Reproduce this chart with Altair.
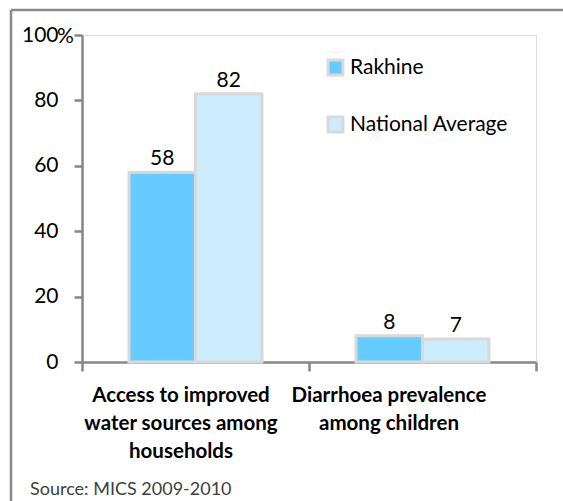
import json
import altair as alt
import pandas as pd

# Chart values
categories = [
    "Access to improved water sources among households",
    "Diarrhoea prevalence among children",
]
category_lines = [
    ["Access to improved", "water sources among", "households"],
    ["Diarrhoea prevalence", "among children"],
]
series = ["Rakhine", "National Average"]
rakhine = [58, 8]
national_average = [82, 7]
series_colors = ["#66CCFF", "#CCECFF"]
y_ticks = [0, 20, 40, 60, 80, 100]
y_unit = "%"
source_note = "Source: MICS 2009-2010"

rows = []
for cat, r, n in zip(categories, rakhine, national_average):
    rows.append({"category": cat, "series": series[0], "value": r})
    rows.append({"category": cat, "series": series[1], "value": n})
df = pd.DataFrame(rows)

# multi-line category labels (empty for the extra band-edge tick)
label_expr = ""
for cat, lines in zip(categories, category_lines):
    label_expr += f"datum.value == {json.dumps(cat)} ? {json.dumps(lines)} : "
label_expr += "''"

FONT = "Lato"
AXIS_GREY = "#868686"
BAR_EDGE = "#D9D9D9"
TEXT_SIZE = 21

x_enc = alt.X(
    "category:N",
    sort=categories,
    scale=alt.Scale(paddingInner=0, paddingOuter=0),
    axis=alt.Axis(
        title=None,
        labelAngle=0,
        labelExpr=label_expr,
        labelFont=FONT,
        labelFontWeight="bold",
        labelFontSize=20.5,
        labelColor="black",
        labelLineHeight=28,
        labelPadding=14,
        labelLimit=400,
        labelOffset={
            "condition": {"test": f"datum.value == {json.dumps(categories[0])}", "value": -15},
            "value": -34,
        },
        tickBand="extent",
        tickSize=9,
        tickWidth=2.5,
        tickColor=AXIS_GREY,
        domainColor=AXIS_GREY,
        domainWidth=2.5,
    ),
)
xoff_enc = alt.XOffset(
    "series:N", sort=series, scale=alt.Scale(paddingInner=0, paddingOuter=0.707)
)
y_enc = alt.Y(
    "value:Q",
    scale=alt.Scale(domain=[0, 100], nice=False),
    axis=alt.Axis(
        title=None,
        values=y_ticks,
        grid=False,
        labelFont=FONT,
        labelFontSize=TEXT_SIZE,
        labelColor="black",
        labelPadding=16,
        tickSize=8,
        tickWidth=2.5,
        tickColor=AXIS_GREY,
        domainColor=AXIS_GREY,
        domainWidth=2.5,
    ),
)

bars = alt.Chart(df).mark_bar(stroke=BAR_EDGE, strokeWidth=3).encode(
    x=x_enc,
    xOffset=xoff_enc,
    y=y_enc,
    color=alt.Color(
        "series:N",
        sort=series,
        scale=alt.Scale(domain=series, range=series_colors),
        legend=alt.Legend(
            title=None,
            orient="none",
            legendX=243,
            legendY=22,
            symbolType="square",
            symbolSize=220,
            symbolStrokeColor=BAR_EDGE,
            symbolStrokeWidth=3,
            labelFont=FONT,
            labelFontSize=TEXT_SIZE,
            labelColor="black",
            labelOffset=4,
            rowPadding=30,
        ),
    ),
)

value_labels = alt.Chart(df).mark_text(
    baseline="bottom", dy=-3, font=FONT, fontSize=TEXT_SIZE, color="black"
).encode(x=x_enc, xOffset=xoff_enc, y=y_enc, text="value:Q")

# unit sign next to the top y tick label
unit_label = alt.Chart(pd.DataFrame({"value": [y_ticks[-1]], "t": [y_unit]})).mark_text(
    align="left", baseline="middle", dy=2, font=FONT, fontSize=TEXT_SIZE, color="black"
).encode(x=alt.value(-25), y=y_enc, text="t:N")

# frame around the chart
frame_df = pd.DataFrame({"k": [0]})
frame_left = alt.Chart(frame_df).mark_rule(color="#8A8A8A", strokeWidth=2.5).encode(
    x=alt.value(-71), y=alt.value(-25), y2=alt.value(480)
)
frame_top = alt.Chart(frame_df).mark_rule(color="#8A8A8A", strokeWidth=2.5).encode(
    x=alt.value(-71), x2=alt.value(600), y=alt.value(-25)
)

source = alt.Chart(pd.DataFrame({"t": [source_note]})).mark_text(
    align="left", baseline="middle", font=FONT, fontSize=18, color="#404040"
).encode(x=alt.value(-52), y=alt.value(455), text="t:N")

chart = (
    alt.layer(frame_left, frame_top, bars, value_labels, unit_label, source)
    .properties(
        width=454,
        height=327,
        autosize=alt.AutoSizeParams(type="none"),
        padding={"left": 82, "top": 35, "right": 27, "bottom": 139},
    )
    .configure_view(stroke=None)
    .configure(background="white")
)

chart.save("out.html", embed_options={"renderer": "svg", "actions": False})
